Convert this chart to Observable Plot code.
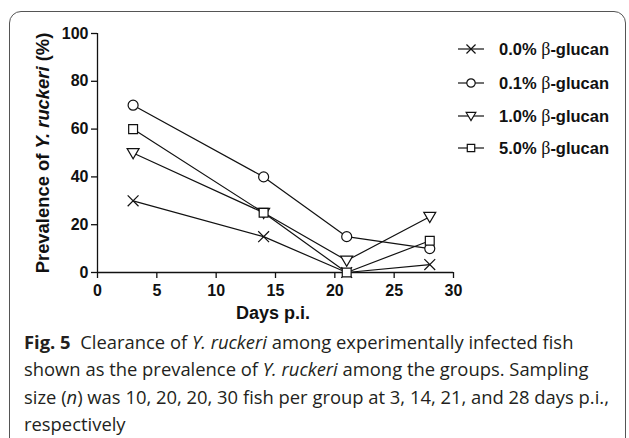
<!DOCTYPE html>
<html>
<head>
<meta charset="utf-8">
<script src="https://cdn.jsdelivr.net/npm/d3@7"></script>
<script src="https://cdn.jsdelivr.net/npm/@observablehq/plot@0.6"></script>
<style>
  html, body { margin: 0; padding: 0; background: #fff; width: 629px; height: 438px; overflow: hidden; }
  #frame { position: absolute; left: 9px; top: 11px; width: 617px; height: 600px; border: 1.3px solid #555; border-radius: 12px; box-sizing: border-box; }
  #chart { position: absolute; left: 0; top: 0; }
  #caption { position: absolute; left: 24px; top: 328px; font-family: "Open Sans", Lato, sans-serif; font-size: 18.4px; line-height: 27.3px; color: #231f20; white-space: nowrap; }
  #caption b { font-weight: 700; }
</style>
</head>
<body>
<div id="frame"></div>
<div id="chart"></div>
<div id="caption"><b>Fig. 5</b>&nbsp; Clearance of <i>Y. ruckeri</i> among experimentally infected fish<br>shown as the prevalence of <i>Y. ruckeri</i> among the groups. Sampling<br>size (<i>n</i>) was 10, 20, 20, 30 fish per group at 3, 14, 21, and 28 days p.i.,<br>respectively</div>
<script>
const days = [3, 14, 21, 28];
const g00 = [30, 15, 0, 3.3];
const g01 = [70, 40, 15, 10];
const g10 = [50, 25, 5, 23.3];
const g50 = [60, 25, 0, 13.3];
const seriesNames = ["0.0% β-glucan", "0.1% β-glucan", "1.0% β-glucan", "5.0% β-glucan"];
const seriesValues = [g00, g01, g10, g50];
const xTicks = [0, 5, 10, 15, 20, 25, 30];
const yTicks = [0, 20, 40, 60, 80, 100];

const triangleDown = {
  draw(ctx, size) {
    const r = Math.sqrt(size / Math.PI);
    const w = r * 1.15;
    ctx.moveTo(-w, -r * 0.85);
    ctx.lineTo(w, -r * 0.85);
    ctx.lineTo(0, r * 1.1);
    ctx.closePath();
  }
};
const symbols = ["times", "circle", triangleDown, "square"];
const radii = [5, 5, 5.2, 5];

const data = [];
seriesNames.forEach((s, i) => days.forEach((d, j) => data.push({series: s, idx: i, day: d, value: seriesValues[i][j]})));

const font = "'Liberation Sans', Arial, sans-serif";
const W = 629, H = 330;
const plot = Plot.plot({
  width: W, height: H,
  marginLeft: 97, marginRight: 176, marginTop: 33, marginBottom: H - 272,
  style: {fontFamily: font, fontSize: "16px", fontWeight: "bold", color: "#111", background: "transparent", overflow: "visible"},
  x: {domain: [0, 30]},
  y: {domain: [0, 100]},
  marks: [
    Plot.axisX({ticks: xTicks, tickSize: 6, tickPadding: 6, label: null, fontSize: 16, fontWeight: "bold", strokeWidth: 1.3}),
    Plot.axisY({ticks: yTicks, tickSize: 6, tickPadding: 3, label: null, fontSize: 16, fontWeight: "bold", strokeWidth: 1.3}),
    Plot.ruleX([0], {stroke: "#111", strokeWidth: 1.3}),
    Plot.ruleY([0], {stroke: "#111", strokeWidth: 1.3}),
    Plot.line(data, {x: "day", y: "value", z: "series", stroke: "#111", strokeWidth: 1.2}),
    ...seriesNames.map((s, i) => Plot.dot(data.filter(d => d.idx === i), {x: "day", y: "value", symbol: symbols[i], r: radii[i], stroke: "#111", fill: "white", strokeWidth: 1.2}))
  ]
});
document.getElementById("chart").appendChild(plot);

const svg = d3.select(plot);
// axis titles
const yt = svg.append("text")
  .attr("transform", "translate(49,153) rotate(-90)")
  .attr("text-anchor", "middle")
  .attr("font-family", font).attr("font-size", 18.4).attr("font-weight", "bold").attr("fill", "#111");
yt.append("tspan").text("Prevalence of ");
yt.append("tspan").attr("font-style", "italic").text("Y. ruckeri");
yt.append("tspan").text(" (%)");
svg.append("text")
  .attr("x", 273).attr("y", 319)
  .attr("text-anchor", "middle")
  .attr("font-family", font).attr("font-size", 18).attr("font-weight", "bold").attr("fill", "#111")
  .text("Days p.i.");

// legend
const legendY = [49, 83, 116, 148];
const legendSyms = [d3.symbolTimes, d3.symbolCircle, triangleDown, d3.symbolSquare];
const lg = svg.append("g");
seriesNames.forEach((s, i) => {
  const y = legendY[i];
  lg.append("line").attr("x1", 458).attr("x2", 484).attr("y1", y).attr("y2", y).attr("stroke", "#111").attr("stroke-width", 1.2);
  const rr = 4.2;
  lg.append("path")
    .attr("transform", `translate(471,${y})`)
    .attr("d", d3.symbol(legendSyms[i], Math.PI * rr * rr)())
    .attr("fill", "white").attr("stroke", "#111").attr("stroke-width", 1.2);
  const t = lg.append("text").attr("x", 499).attr("y", y).attr("dy", "0.36em").attr("text-anchor", "start")
    .attr("font-family", font).attr("font-size", 16.5).attr("font-weight", "bold").attr("fill", "#111");
  const parts = s.split("β");
  t.append("tspan").text(parts[0]);
  t.append("tspan").attr("font-family", "'Liberation Serif', 'DejaVu Serif', serif").attr("font-weight", "normal").attr("font-size", 18).text("β");
  t.append("tspan").text(parts[1]);
});
</script>
</body>
</html>
